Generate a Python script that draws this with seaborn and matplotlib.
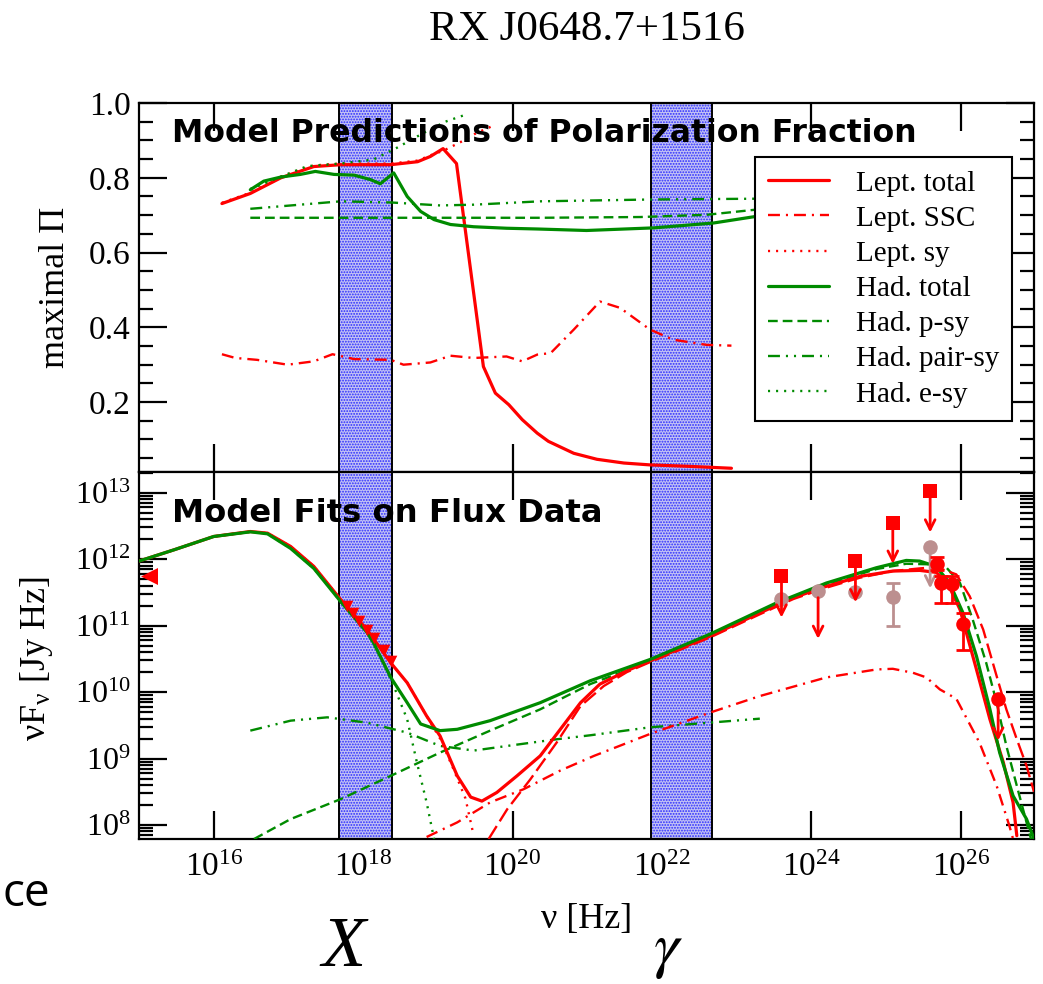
import numpy as np
import pandas as pd
import matplotlib
matplotlib.use("Agg")
import matplotlib.pyplot as plt
import matplotlib.ticker as mticker
import seaborn as sns

sns.set_style("ticks")
plt.rcParams.update({
    "font.family": ["Liberation Serif", "DejaVu Serif"],
    "mathtext.fontset": "custom",
    "mathtext.rm": "Liberation Serif",
    "mathtext.it": "Liberation Serif:italic",
    "mathtext.bf": "Liberation Serif:bold",
    "hatch.linewidth": 0.9,
    "axes.linewidth": 1.6,
    "axes.edgecolor": "black",
    "text.color": "black",
    "axes.labelcolor": "black",
    "xtick.color": "black",
    "ytick.color": "black",
    "lines.scale_dashes": False,
})

RED = "#ff0000"
GREEN = "#008b00"
GREY = "#bc8f8f"
BAND_FACE = "#c2c2f4"
BAND_DOTS = "#2a2aff"

# ---------------- maximal polarization fraction (log10 nu [Hz], fraction) ----------------
pol_lept_total_lognu = [16.11, 16.49, 16.90, 17.34, 17.70, 18.37, 18.73, 18.90, 19.07, 19.25, 19.61,
                        19.77, 19.95, 20.13, 20.33, 20.48, 20.82, 21.13, 21.49, 21.84, 22.38, 22.93]
pol_lept_total = [0.731, 0.758, 0.800, 0.830, 0.835, 0.835, 0.843, 0.857, 0.878, 0.838, 0.295,
                  0.224, 0.193, 0.153, 0.117, 0.095, 0.063, 0.047, 0.037, 0.032, 0.028, 0.023]

pol_lept_ssc_lognu = [16.11, 16.29, 16.58, 16.99, 17.34, 17.59, 17.88, 18.37, 18.54, 18.90, 19.17, 19.48,
                      19.92, 20.13, 20.33, 20.51, 20.82, 21.17, 21.44, 21.84, 22.15, 22.60, 22.93]
pol_lept_ssc = [0.328, 0.318, 0.313, 0.300, 0.309, 0.328, 0.315, 0.313, 0.300, 0.306, 0.324, 0.318,
                0.322, 0.309, 0.327, 0.331, 0.394, 0.469, 0.452, 0.394, 0.367, 0.353, 0.351]

pol_lept_sy_lognu = [16.11, 16.49, 16.90, 17.34, 17.70, 18.37, 18.73, 18.90, 19.07, 19.30, 19.52, 19.75]
pol_lept_sy = [0.733, 0.760, 0.803, 0.833, 0.838, 0.838, 0.846, 0.860, 0.872, 0.895, 0.920, 0.940]

pol_had_total_lognu = [16.49, 16.67, 16.90, 17.16, 17.36, 17.61, 17.88, 18.10, 18.23, 18.41, 18.59, 18.77,
                       18.95, 19.17, 19.48, 19.92, 20.33, 20.99, 21.89, 22.69, 23.27, 24.0, 25.0, 26.0, 26.5]
pol_had_total = [0.768, 0.791, 0.802, 0.809, 0.817, 0.809, 0.807, 0.795, 0.784, 0.813, 0.750, 0.710,
                 0.688, 0.675, 0.669, 0.665, 0.663, 0.659, 0.666, 0.679, 0.697, 0.710, 0.720, 0.725, 0.725]

pol_had_psy_lognu = [16.49, 18.0, 20.37, 21.71, 22.60, 23.27, 24.0, 25.0, 26.0, 26.5]
pol_had_psy = [0.693, 0.693, 0.693, 0.695, 0.701, 0.715, 0.720, 0.720, 0.720, 0.720]

pol_had_pair_lognu = [16.49, 17.70, 18.37, 19.03, 19.48, 20.37, 21.89, 23.27, 24.5, 26.5]
pol_had_pair = [0.717, 0.737, 0.734, 0.726, 0.728, 0.737, 0.742, 0.744, 0.745, 0.745]

pol_had_esy_lognu = [16.49, 16.90, 17.25, 17.70, 18.14, 18.45, 18.81, 19.10, 19.39]
pol_had_esy = [0.770, 0.803, 0.831, 0.838, 0.849, 0.880, 0.920, 0.950, 0.970]

# ---------------- SED model curves (log10 nu [Hz], log10 nuF_nu [Jy Hz]) ----------------
sed_lept_total_lognu = [15.0, 15.47, 16.0, 16.49, 16.72, 17.03, 17.34, 17.70, 18.05, 18.37, 18.59, 18.85,
                        19.03, 19.26, 19.44, 19.59, 19.79, 20.06, 20.37, 20.68, 20.91, 21.17, 21.53, 21.84,
                        22.64, 23.31, 23.76, 24.20, 24.65, 25.09, 25.45, 25.67, 25.81, 25.99, 26.21, 26.39,
                        26.57, 26.70, 26.75]
sed_lept_total = [11.97, 12.14, 12.34, 12.415, 12.39, 12.19, 11.89, 11.39, 10.94, 10.44, 10.14, 9.64,
                  9.34, 8.74, 8.42, 8.36, 8.49, 8.74, 9.04, 9.50, 9.84, 10.12, 10.32, 10.47,
                  10.84, 11.19, 11.42, 11.59, 11.74, 11.82, 11.83, 11.80, 11.67, 11.24, 10.34, 9.59,
                  8.94, 8.34, 7.84]

sed_lept_ic_lognu = [19.68, 19.93, 20.24, 20.59, 20.91, 21.22, 21.53, 21.84, 22.64, 23.31, 23.76, 24.20,
                     24.65, 25.09, 25.45, 25.67, 25.94, 26.12, 26.30, 26.48, 26.61, 26.75, 26.88, 26.98]
sed_lept_ic = [7.79, 8.24, 8.69, 9.24, 9.79, 10.09, 10.30, 10.45, 10.82, 11.17, 11.40, 11.57,
               11.72, 11.82, 11.86, 11.88, 11.77, 11.44, 10.94, 10.24, 9.74, 9.29, 8.89, 8.50]

sed_lept_ssc_lognu = [18.85, 19.26, 19.70, 20.15, 20.64, 21.09, 21.84, 22.64, 23.31, 24.20, 24.87, 25.09,
                      25.36, 25.54, 25.72, 25.94, 26.25, 26.48, 26.65, 26.70]
sed_lept_ssc = [7.82, 8.04, 8.34, 8.54, 8.82, 9.04, 9.37, 9.69, 9.94, 10.22, 10.34, 10.35,
                10.29, 10.22, 10.04, 9.90, 9.24, 8.59, 7.99, 7.79]

sed_lept_sy_lognu = [15.0, 15.47, 16.0, 16.49, 16.72, 17.03, 17.34, 17.70, 18.05, 18.37, 18.59, 18.85,
                     19.03, 19.21, 19.37, 19.48]
sed_lept_sy = [11.97, 12.14, 12.34, 12.415, 12.39, 12.19, 11.89, 11.39, 10.94, 10.44, 10.14, 9.64,
               9.30, 8.84, 8.40, 7.84]

sed_had_total_lognu = [15.0, 15.47, 16.0, 16.49, 16.72, 17.03, 17.34, 17.70, 18.05, 18.14, 18.37, 18.59,
                       18.77, 19.03, 19.26, 19.70, 20.37, 21.04, 21.84, 22.64, 23.53, 24.20, 24.87, 25.27,
                       25.45, 25.67, 25.85, 26.03, 26.21, 26.39, 26.52, 26.70, 26.88, 26.98]
sed_had_total = [11.97, 12.14, 12.34, 12.41, 12.38, 12.16, 11.86, 11.36, 10.90, 10.74, 10.22, 9.84,
                 9.52, 9.42, 9.44, 9.57, 9.84, 10.17, 10.49, 10.87, 11.34, 11.64, 11.87, 11.98,
                 11.97, 11.89, 11.64, 11.19, 10.54, 9.74, 9.09, 8.44, 8.09, 7.79]

sed_had_psy_lognu = [16.54, 17.03, 17.70, 18.37, 19.03, 19.70, 20.37, 21.04, 21.84, 22.64, 23.53, 24.20,
                     24.87, 25.27, 25.63, 25.81, 25.99, 26.16, 26.34, 26.48, 26.61, 26.75, 26.88, 26.94]
sed_had_psy = [7.79, 8.09, 8.39, 8.74, 9.09, 9.42, 9.74, 10.12, 10.46, 10.85, 11.32, 11.62,
               11.85, 11.93, 11.92, 11.87, 11.64, 11.09, 10.44, 9.84, 9.19, 8.59, 8.04, 7.79]

sed_had_pair_lognu = [16.49, 17.03, 17.52, 18.05, 18.59, 19.03, 19.48, 19.93, 20.59, 21.04, 21.84, 22.64, 23.31]
sed_had_pair = [9.42, 9.57, 9.62, 9.54, 9.39, 9.19, 9.12, 9.19, 9.29, 9.35, 9.47, 9.54, 9.60]

sed_had_esy_lognu = [15.0, 15.47, 16.0, 16.49, 16.72, 17.03, 17.34, 17.70, 18.05, 18.14, 18.37, 18.59,
                     18.72, 18.85, 18.95]
sed_had_esy = [11.97, 12.14, 12.34, 12.41, 12.38, 12.16, 11.86, 11.36, 10.90, 10.74, 10.20, 9.59,
               8.94, 8.34, 7.79]

# ---------------- flux data (log10 values) ----------------
opt_lognu, opt_flux = [15.13], [11.74]
xray_lognu = [17.79, 17.86, 17.94, 18.05, 18.14, 18.28, 18.37]
xray_flux = [11.29, 11.19, 11.07, 10.94, 10.82, 10.64, 10.47]

lat_ul_lognu = [23.60, 24.59, 25.09, 25.59]
lat_ul_flux = [11.74, 11.97, 12.55, 13.02]
lat_ul_hidden_lognu, lat_ul_hidden_flux = [24.09], [11.42]

grey_lognu = [23.60, 24.09, 24.59, 25.09, 25.59]
grey_flux = [11.40, 11.52, 11.50, 11.43, 12.18]
grey_err_lognu, grey_err_lo, grey_err_hi = [25.09], [11.00], [11.64]
grey_ul_lognu, grey_ul_flux = [25.59], [12.18]

tev_lognu = [25.68, 25.74, 25.88, 26.03]
tev_flux = [11.93, 11.64, 11.62, 11.02]
tev_lo = [11.83, 11.34, 11.34, 10.64]
tev_hi = [12.03, 11.74, 11.74, 11.19]
tev_ul_lognu, tev_ul_flux = [26.50], [9.89]

UL_LENGTH_DEX = 0.62

x_band = (17.68, 18.38)
gamma_band = (21.85, 22.67)

x_ticks = [16, 18, 20, 22, 24, 26]

# ---------------- figure ----------------
W, H = 1043, 984
fig = plt.figure(figsize=(W / 100, H / 100), dpi=100)


def fig_rect(x0, y0, x1, y1):
    return [x0 / W, 1 - y1 / H, (x1 - x0) / W, (y1 - y0) / H]


ax_pol = fig.add_axes(fig_rect(139, 103, 1034, 472))
ax_sed = fig.add_axes(fig_rect(139, 472, 1034, 839))

for ax in (ax_pol, ax_sed):
    ax.set_xscale("log")
ax_sed.set_yscale("log")

SOLID = "-"
DASHED = (0, (7, 3.6))
DOTTED = (0, (1.5, 4.3))
DASHDOT = (0, (8.6, 4.3, 1.5, 4.3))
DASHDOTDOT = (0, (8.6, 4.3, 1.5, 4.3, 1.5, 4.3))
LONGDASH = (0, (11, 4))


def curve(ax, lognu, vals, color, ls, lw, label=None, logy=False):
    y = 10.0 ** np.asarray(vals) if logy else np.asarray(vals)
    df = pd.DataFrame({"nu": 10.0 ** np.asarray(lognu), "val": y})
    sns.lineplot(data=df, x="nu", y="val", ax=ax, color=color, linestyle=ls, lw=lw,
                 label=label, estimator=None, sort=False, legend=False, zorder=3)


# polarization panel
curve(ax_pol, pol_lept_total_lognu, pol_lept_total, RED, SOLID, 2.3, "Lept. total")
curve(ax_pol, pol_lept_ssc_lognu, pol_lept_ssc, RED, DASHDOT, 1.7, "Lept. SSC")
curve(ax_pol, pol_lept_sy_lognu, pol_lept_sy, RED, DOTTED, 1.7, "Lept. sy")
curve(ax_pol, pol_had_total_lognu, pol_had_total, GREEN, SOLID, 2.3, "Had. total")
curve(ax_pol, pol_had_psy_lognu, pol_had_psy, GREEN, DASHED, 1.7, "Had. p-sy")
curve(ax_pol, pol_had_pair_lognu, pol_had_pair, GREEN, DASHDOTDOT, 1.7, "Had. pair-sy")
curve(ax_pol, pol_had_esy_lognu, pol_had_esy, GREEN, DOTTED, 1.7, "Had. e-sy")

# SED panel
curve(ax_sed, sed_had_pair_lognu, sed_had_pair, GREEN, DASHDOTDOT, 1.7, logy=True)
curve(ax_sed, sed_had_psy_lognu, sed_had_psy, GREEN, DASHED, 1.7, logy=True)
curve(ax_sed, sed_had_esy_lognu, sed_had_esy, GREEN, DOTTED, 1.7, logy=True)
curve(ax_sed, sed_lept_ssc_lognu, sed_lept_ssc, RED, DASHDOT, 1.7, logy=True)
curve(ax_sed, sed_lept_ic_lognu, sed_lept_ic, RED, LONGDASH, 1.7, logy=True)
curve(ax_sed, sed_lept_sy_lognu, sed_lept_sy, RED, DOTTED, 1.7, logy=True)
curve(ax_sed, sed_lept_total_lognu, sed_lept_total, RED, SOLID, 2.3, logy=True)
curve(ax_sed, sed_had_total_lognu, sed_had_total, GREEN, SOLID, 2.3, logy=True)


def pts(lognu, logf):
    return 10.0 ** np.asarray(lognu), 10.0 ** np.asarray(logf)


def upper_limits(ax, lognu, logf, color):
    for ln, lf in zip(lognu, logf):
        ax.annotate("", xy=(10 ** ln, 10 ** (lf - UL_LENGTH_DEX)), xytext=(10 ** ln, 10 ** lf),
                    arrowprops=dict(arrowstyle="->,head_length=0.7,head_width=0.35",
                                    color=color, lw=2.0, shrinkA=0, shrinkB=0), zorder=5)


# grey gamma-ray points
gx, gy = pts(grey_lognu, grey_flux)
sns.scatterplot(x=gx, y=gy, ax=ax_sed, color=GREY, marker="o", s=110, linewidth=0, zorder=4)
ex, _ = pts(grey_err_lognu, grey_err_lo)
ey = 10.0 ** np.asarray([grey_flux[grey_lognu.index(v)] for v in grey_err_lognu])
ax_sed.errorbar(ex, ey, yerr=[ey - 10.0 ** np.asarray(grey_err_lo), 10.0 ** np.asarray(grey_err_hi) - ey],
                fmt="none", ecolor=GREY, elinewidth=2, capsize=5, capthick=2, zorder=4)
upper_limits(ax_sed, grey_ul_lognu, grey_ul_flux, GREY)

# red upper limits (squares with arrows)
upper_limits(ax_sed, lat_ul_lognu, lat_ul_flux, RED)
upper_limits(ax_sed, lat_ul_hidden_lognu, lat_ul_hidden_flux, RED)
sx, sy = pts(lat_ul_lognu, lat_ul_flux)
sns.scatterplot(x=sx, y=sy, ax=ax_sed, color=RED, marker="s", s=95, linewidth=0, zorder=6)

# TeV points
tx, ty = pts(tev_lognu, tev_flux)
ax_sed.errorbar(tx, ty, yerr=[ty - 10.0 ** np.asarray(tev_lo), 10.0 ** np.asarray(tev_hi) - ty],
                fmt="none", ecolor=RED, elinewidth=2, capsize=5, capthick=2, zorder=5)
sns.scatterplot(x=tx, y=ty, ax=ax_sed, color=RED, marker="o", s=110, linewidth=0, zorder=6)
upper_limits(ax_sed, tev_ul_lognu, tev_ul_flux, RED)
ux, uy = pts(tev_ul_lognu, tev_ul_flux)
sns.scatterplot(x=ux, y=uy, ax=ax_sed, color=RED, marker="o", s=110, linewidth=0, zorder=6)

# optical and X-ray points
ox, oy = pts(opt_lognu, opt_flux)
sns.scatterplot(x=ox, y=oy, ax=ax_sed, color=RED, marker="<", s=150, linewidth=0, zorder=6, clip_on=False)
xx, xy_ = pts(xray_lognu, xray_flux)
sns.scatterplot(x=xx, y=xy_, ax=ax_sed, color=RED, marker="v", s=70, linewidth=0, zorder=6)

# energy bands
for ax in (ax_pol, ax_sed):
    for lo, hi in (x_band, gamma_band):
        ax.axvspan(10 ** lo, 10 ** hi, facecolor=BAND_FACE, edgecolor=BAND_DOTS, hatch="......",
                   lw=0, zorder=1)
        ax.axvspan(10 ** lo, 10 ** hi, fill=False, edgecolor="black", lw=1.4, zorder=1.5)

# axes, ticks
for ax in (ax_pol, ax_sed):
    ax.set_xlim(1e15, 10 ** 26.98)
    ax.xaxis.set_major_locator(mticker.FixedLocator([10.0 ** t for t in x_ticks]))
    ax.xaxis.set_minor_locator(mticker.NullLocator())
    ax.tick_params(which="both", direction="in", top=True, right=True, width=1.6, colors="black")
    ax.tick_params(which="major", length=20)
    ax.tick_params(which="minor", length=10)
    for sp in ax.spines.values():
        sp.set_linewidth(1.6)
        sp.set_color("black")
    ax.set_xlabel("")
    ax.set_ylabel("")

ax_pol.set_ylim(0.013, 1.0)
ax_pol.yaxis.set_major_locator(mticker.MultipleLocator(0.2))
ax_pol.yaxis.set_minor_locator(mticker.MultipleLocator(0.05))
ax_pol.yaxis.set_major_formatter(mticker.FormatStrFormatter("%.1f"))
ax_pol.tick_params(axis="x", labelbottom=False)
ax_pol.tick_params(axis="y", labelsize=24, pad=6)

ax_sed.set_ylim(10 ** 7.79, 10 ** 13.31)
ax_sed.yaxis.set_major_locator(mticker.LogLocator(base=10, numticks=20))
ax_sed.yaxis.set_minor_locator(mticker.LogLocator(base=10, subs=np.arange(2, 10), numticks=20))
ax_sed.yaxis.set_minor_formatter(mticker.NullFormatter())
ax_sed.tick_params(axis="y", labelsize=23, pad=6)
ax_sed.tick_params(axis="x", labelsize=24, pad=10)

# labels
ax_pol.set_ylabel("maximal Π", fontsize=26)
ax_pol.yaxis.set_label_coords(-0.075, 0.5)
ax_sed.set_ylabel("ν$\\mathregular{F_{ν}}$ [Jy Hz]", fontsize=26)
ax_sed.yaxis.set_label_coords(-0.094, 0.49)
ax_sed.set_xlabel("ν [Hz]", fontsize=26)
ax_sed.xaxis.set_label_coords(0.5, -0.175)

ax_pol.text(0.037, 0.894, "Model Predictions of Polarization Fraction", transform=ax_pol.transAxes,
            family="DejaVu Sans", fontweight="bold", fontsize=22.7, va="baseline", zorder=7)
ax_sed.text(0.037, 0.864, "Model Fits on Flux Data", transform=ax_sed.transAxes,
            family="DejaVu Sans", fontweight="bold", fontsize=23.2, va="baseline", zorder=7)

fig.text(587 / W, 1 - 30 / H, "RX J0648.7+1516", ha="center", va="center", fontsize=31)
fig.text(343 / W, 1 - 948 / H, "X", ha="center", va="center", fontsize=52, style="italic")
fig.text(668 / W, 1 - 952 / H, r"$\gamma$", ha="center", va="center", fontsize=46, math_fontfamily="stix")
fig.text(50 / W, 1 - 906 / H, "ce", ha="right", va="baseline", fontsize=33, family="Open Sans")

# legend
handles, labels = ax_pol.get_legend_handles_labels()
leg = ax_pol.legend(handles, labels, loc="upper right", bbox_to_anchor=(1012 / W, 1 - 157 / H),
                    bbox_transform=fig.transFigure, fontsize=21, frameon=True, fancybox=False,
                    framealpha=1, edgecolor="black", handlelength=2.1, labelspacing=0.3,
                    borderpad=0.45, handletextpad=0.9, borderaxespad=0)
leg.get_frame().set_linewidth(1.5)
leg.set_zorder(10)

fig.savefig("out.png", dpi=100)
